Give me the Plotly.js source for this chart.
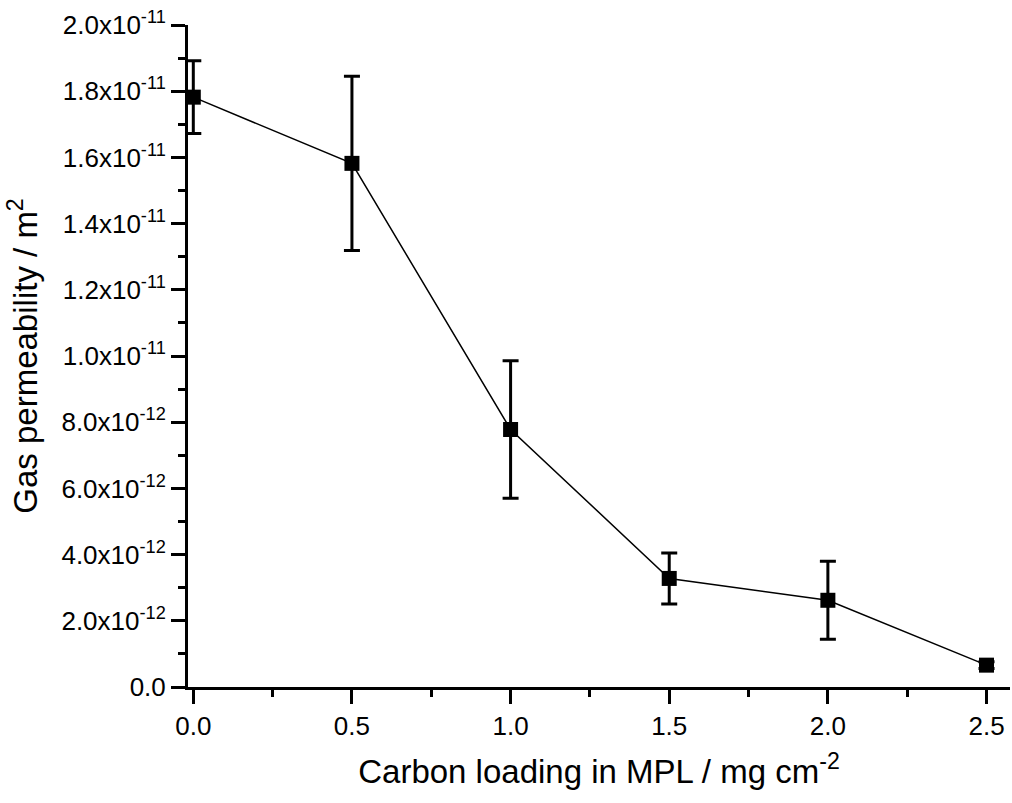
<!DOCTYPE html>
<html>
<head>
<meta charset="utf-8">
<script src="https://cdn.plot.ly/plotly-3.0.1.min.js"></script>
<style>
  html, body { margin: 0; padding: 0; background: #fff; }
  #chart { width: 1012px; height: 803px; }
</style>
</head>
<body>
<div id="chart"></div>
<script>
// Carbon loading in MPL (mg cm^-2)
const loading = [0.0, 0.5, 1.0, 1.5, 2.0, 2.5];
// Gas permeability (m^2)
const permeability = [1.782e-11, 1.582e-11, 7.78e-12, 3.28e-12, 2.62e-12, 6.6e-13];
// Error (± m^2)
const permError = [1.10e-12, 2.63e-12, 2.08e-12, 7.7e-13, 1.18e-12, 1.0e-13];

const xTickVals = [0.0, 0.5, 1.0, 1.5, 2.0, 2.5];
const xTickText = ["0.0", "0.5", "1.0", "1.5", "2.0", "2.5"];
const yTickVals = [0, 2e-12, 4e-12, 6e-12, 8e-12, 1.0e-11, 1.2e-11, 1.4e-11, 1.6e-11, 1.8e-11, 2.0e-11];
const yTickText = ["0.0", "2.0x10<sup>-12</sup>", "4.0x10<sup>-12</sup>", "6.0x10<sup>-12</sup>",
  "8.0x10<sup>-12</sup>", "1.0x10<sup>-11</sup>", "1.2x10<sup>-11</sup>", "1.4x10<sup>-11</sup>",
  "1.6x10<sup>-11</sup>", "1.8x10<sup>-11</sup>", "2.0x10<sup>-11</sup>"];

const xTitle = "Carbon loading in MPL / mg cm<sup>-2</sup>";
const yTitle = "Gas permeability / m<sup>2</sup>";

const trace = {
  x: loading,
  y: permeability,
  type: "scatter",
  mode: "lines+markers",
  line: { color: "#000", width: 1.5 },
  marker: { symbol: "square", size: 15, color: "#000" },
  error_y: { type: "data", array: permError, visible: true, color: "#000", thickness: 3, width: 8 },
  cliponaxis: false,
  showlegend: false
};

const font = "Liberation Sans, Arial, sans-serif";

const layout = {
  width: 1012,
  height: 803,
  paper_bgcolor: "#fff",
  plot_bgcolor: "#fff",
  margin: { l: 188, r: 2, t: 25, b: 116 },
  font: { family: font, color: "#000", size: 26 },
  xaxis: {
    range: [-0.0167, 2.574],
    tickvals: xTickVals,
    ticktext: xTickText,
    ticks: "outside",
    ticklen: 14,
    tickwidth: 3,
    tickcolor: "#000",
    showline: true,
    linewidth: 3,
    linecolor: "#000",
    showgrid: false,
    zeroline: false,
    tickfont: { family: font, size: 26, color: "#000" },
    minor: { dtick: 0.25, ticks: "outside", ticklen: 7, tickwidth: 3, tickcolor: "#000", showgrid: false },
    title: { text: xTitle, font: { family: font, size: 33, color: "#000" }, standoff: 20 },
    automargin: false
  },
  yaxis: {
    range: [0, 2.0e-11],
    tickvals: yTickVals,
    ticktext: yTickText,
    ticks: "outside",
    ticklen: 14,
    tickwidth: 3,
    tickcolor: "#000",
    showline: true,
    linewidth: 3,
    linecolor: "#000",
    showgrid: false,
    zeroline: false,
    tickfont: { family: font, size: 26, color: "#000" },
    minor: { dtick: 1e-12, ticks: "outside", ticklen: 7, tickwidth: 3, tickcolor: "#000", showgrid: false },
    title: { text: yTitle, font: { family: font, size: 33, color: "#000" }, standoff: 14 },
    automargin: false
  }
};

Plotly.newPlot("chart", [trace], layout, { staticPlot: true, displayModeBar: false });
</script>
</body>
</html>
